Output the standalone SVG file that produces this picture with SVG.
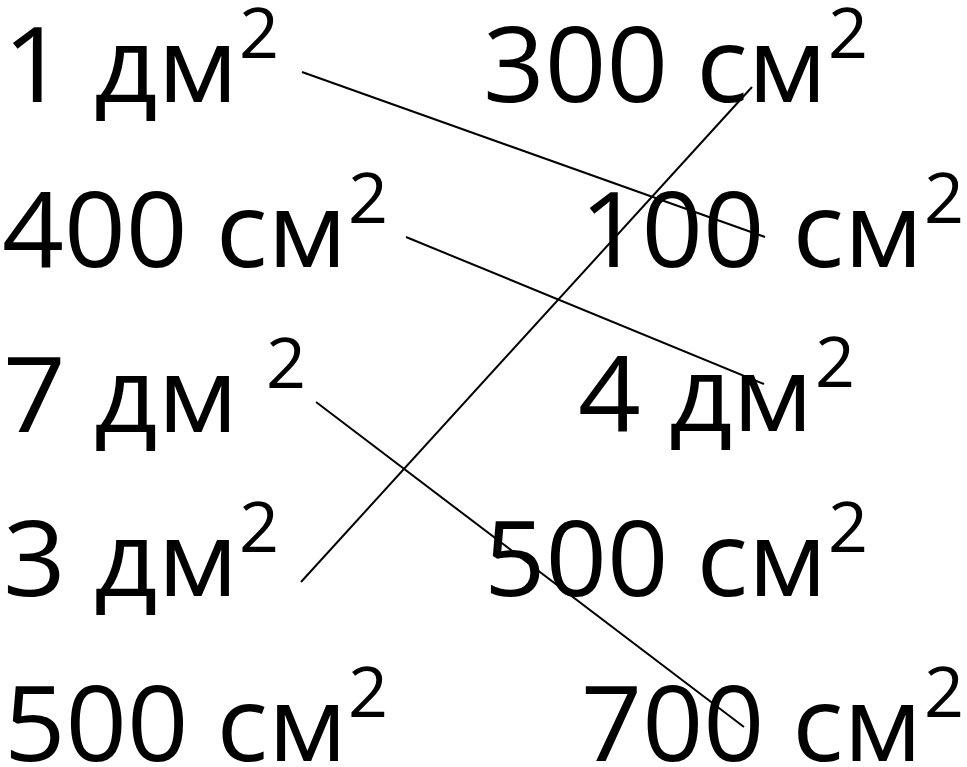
<svg xmlns="http://www.w3.org/2000/svg" width="967" height="767" viewBox="0 0 967 767">
<style>
.t{font-family:"Open Sans","Noto Sans","Liberation Sans",sans-serif;font-size:105px;fill:#000}
.s{font-family:"Open Sans","Noto Sans","Liberation Sans",sans-serif;font-size:70px;fill:#000}
.c line{stroke:#000;stroke-width:2}
</style>
<rect width="967" height="767" fill="#fff"/>
<g id="l1"><text class="t" x="3" y="102" textLength="235" lengthAdjust="spacingAndGlyphs">1 дм</text><text class="s" x="239" y="58">2</text></g>
<g id="l2"><text class="t" x="2" y="267" textLength="345" lengthAdjust="spacingAndGlyphs">400 см</text><text class="s" x="348" y="223">2</text></g>
<g id="l3"><text class="t" x="3" y="432" textLength="235" lengthAdjust="spacingAndGlyphs">7 дм</text><text class="s" x="266" y="388">2</text></g>
<g id="l4"><text class="t" x="3" y="596" textLength="235" lengthAdjust="spacingAndGlyphs">3 дм</text><text class="s" x="239" y="552">2</text></g>
<g id="l5"><text class="t" x="4" y="761" textLength="343" lengthAdjust="spacingAndGlyphs">500 см</text><text class="s" x="348" y="717">2</text></g>
<g id="r1"><text class="t" x="483" y="102" textLength="344" lengthAdjust="spacingAndGlyphs">300 см</text><text class="s" x="828" y="58">2</text></g>
<g id="r2"><text class="t" x="580" y="267" textLength="343" lengthAdjust="spacingAndGlyphs">100 см</text><text class="s" x="924" y="223">2</text></g>
<g id="r3"><text class="t" x="578" y="431" textLength="235" lengthAdjust="spacingAndGlyphs">4 дм</text><text class="s" x="815" y="387">2</text></g>
<g id="r4"><text class="t" x="484" y="596" textLength="343" lengthAdjust="spacingAndGlyphs">500 см</text><text class="s" x="828" y="552">2</text></g>
<g id="r5"><text class="t" x="581" y="761" textLength="341" lengthAdjust="spacingAndGlyphs">700 см</text><text class="s" x="924" y="717">2</text></g>
<g id="connectors" class="c">
<line x1="302" y1="72" x2="765" y2="237"/>
<line x1="752" y1="87" x2="301" y2="582"/>
<line x1="406" y1="237" x2="764" y2="384"/>
<line x1="316" y1="402" x2="744" y2="727"/>
</g>
</svg>
